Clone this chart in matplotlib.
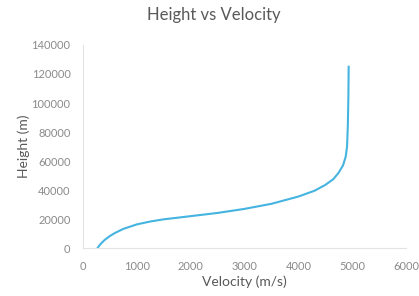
import matplotlib
matplotlib.use("Agg")
import matplotlib.pyplot as plt

velocity = [270, 320, 400, 500, 600, 750, 1000, 1250, 1500, 2000, 2500, 3000,
            3500, 4000, 4300, 4500, 4650, 4750, 4830, 4880, 4905, 4920, 4930, 4935]
height = [0, 2500, 5500, 8300, 10500, 13200, 16300, 18300, 19800, 22000, 24200, 27000,
          30500, 35500, 39500, 43500, 47500, 52000, 57000, 63000, 70000, 85000, 105000, 125000]

xticks = [0, 1000, 2000, 3000, 4000, 5000, 6000]
yticks = [0, 20000, 40000, 60000, 80000, 100000, 120000, 140000]

plt.rcParams['font.family'] = ['Lato', 'DejaVu Sans']
grey = '#8a8a8a'

fig = plt.figure(figsize=(4.19, 2.96), dpi=100)
ax = fig.add_axes([0.198, 0.162, 0.771, 0.686])

ax.plot(velocity, height, color='#45b4e0', linewidth=1.5)

ax.set_xlim(0, 6000)
ax.set_ylim(0, 140000)
ax.set_xticks(xticks)
ax.set_yticks(yticks)
ax.tick_params(axis='x', length=0, labelsize=8, labelcolor=grey, pad=9)
ax.tick_params(axis='y', length=0, labelsize=8, labelcolor=grey, pad=9)
for s in ['top', 'right']:
    ax.spines[s].set_visible(False)
for s in ['left', 'bottom']:
    ax.spines[s].set_color('#e3e3e3')
    ax.spines[s].set_linewidth(0.8)

fig.suptitle('Height vs Velocity', fontsize=12, color='#595959', x=0.51, y=0.975)
ax.set_xlabel('Velocity (m/s)', fontsize=10, color='#595959', labelpad=3)
ax.set_ylabel('Height (m)', fontsize=10, color='#595959', labelpad=1)

fig.savefig('out.png', dpi=100)
